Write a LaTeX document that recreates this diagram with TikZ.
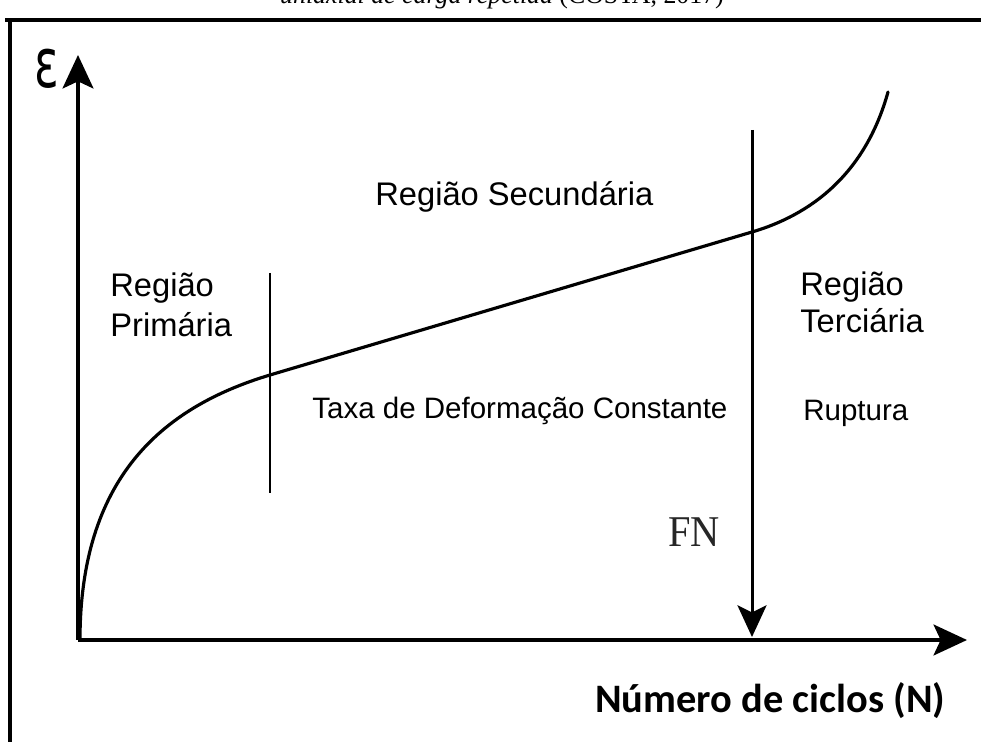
\documentclass[tikz,border=0pt]{standalone}
\usepackage{fontspec}
\setmainfont{Liberation Serif}
\newfontfamily\arialf{Liberation Sans}
\newfontfamily\calibrif{Carlito}
\newfontfamily\dejavuf{DejaVu Sans}
\usetikzlibrary{arrows.meta}
\begin{document}
\begin{tikzpicture}[x=0.02cm,y=-0.02cm,
  lbl/.style={inner sep=0pt,anchor=base west,font=\arialf\fontsize{18.6pt}{22pt}\selectfont},
  smlbl/.style={inner sep=0pt,anchor=base west,font=\arialf\fontsize{16.8pt}{20pt}\selectfont},
  axis/.style={line width=2.3pt,-{Stealth[length=19pt,width=17.5pt,inset=4pt]}},
  fnarrow/.style={line width=1.7pt,-{Stealth[length=18pt,width=16.5pt,inset=4pt]}},
  curve/.style={line width=1.8pt,line cap=round},
  frame/.style={line width=1.8pt},
  thin/.style={line width=0.9pt}]
\useasboundingbox (0,0) rectangle (981,742);
\clip (0,0) rectangle (981,742);
% caption (cut off at top, as in the reference)
\node[inner sep=0pt,anchor=base,font=\fontsize{14.7pt}{17pt}\selectfont] (cap) at (502,4) {\itshape uniaxial de carga repetida\upshape{} (COSTA, 2017)};
% frame
\coordinate (fa) at (5,20);
\coordinate (fb) at (981,20);
\coordinate (fc) at (10,20);
\coordinate (fd) at (10,742);
\draw[frame] (fa) -- (fb);
\draw[frame] (fc) -- (fd);
% axes
\coordinate (O) at (78,640);
\coordinate (ytip) at (78,55);
\coordinate (xtip) at (967,640);
\draw[axis] (O) -- (ytip);
\draw[axis] (O) -- (xtip);
% epsilon
\node[inner sep=0pt,font=\dejavuf\fontsize{26pt}{30pt}\selectfont,yscale=1.5] (eps) at (47,69) {ε};
% curve
\coordinate (c0) at (80,640);
\coordinate (c1) at (270,375);
\coordinate (c2) at (752,232);
\coordinate (c3) at (888,92);
\draw[curve] (c0) .. controls (80,480) and (160,408) .. (c1)
  -- (c2) .. controls (810,215) and (865,175) .. (c3);
% thin separator
\coordinate (s0) at (270,273);
\coordinate (s1) at (270,493);
\draw[thin] (s0) -- (s1);
% FN arrow
\coordinate (fntop) at (752,130);
\coordinate (fnbot) at (752,637);
\draw[fnarrow] (fntop) -- (fnbot);
% labels
\node[lbl] (sec) at (375,206) {Região Secundária};
\node[lbl] (p1) at (110,297) {Região};
\node[lbl] (p2) at (110,337) {Primária};
\node[lbl] (t1) at (800,296) {Região};
\node[lbl] (t2) at (800,333) {Terciária};
\node[smlbl] (taxa) at (312,419) {Taxa de Deformação Constante};
\node[smlbl] (rup) at (803,421) {Ruptura};
\node[inner sep=0pt,anchor=base west,font=\fontsize{25pt}{28pt}\selectfont,text=black!85,xscale=0.92] (fn) at (668,547) {FN};
\node[inner sep=0pt,anchor=base west,font=\calibrif\bfseries\fontsize{23pt}{26pt}\selectfont] (nlabel) at (595,713) {Número de ciclos (N)};
\end{tikzpicture}
\end{document}
